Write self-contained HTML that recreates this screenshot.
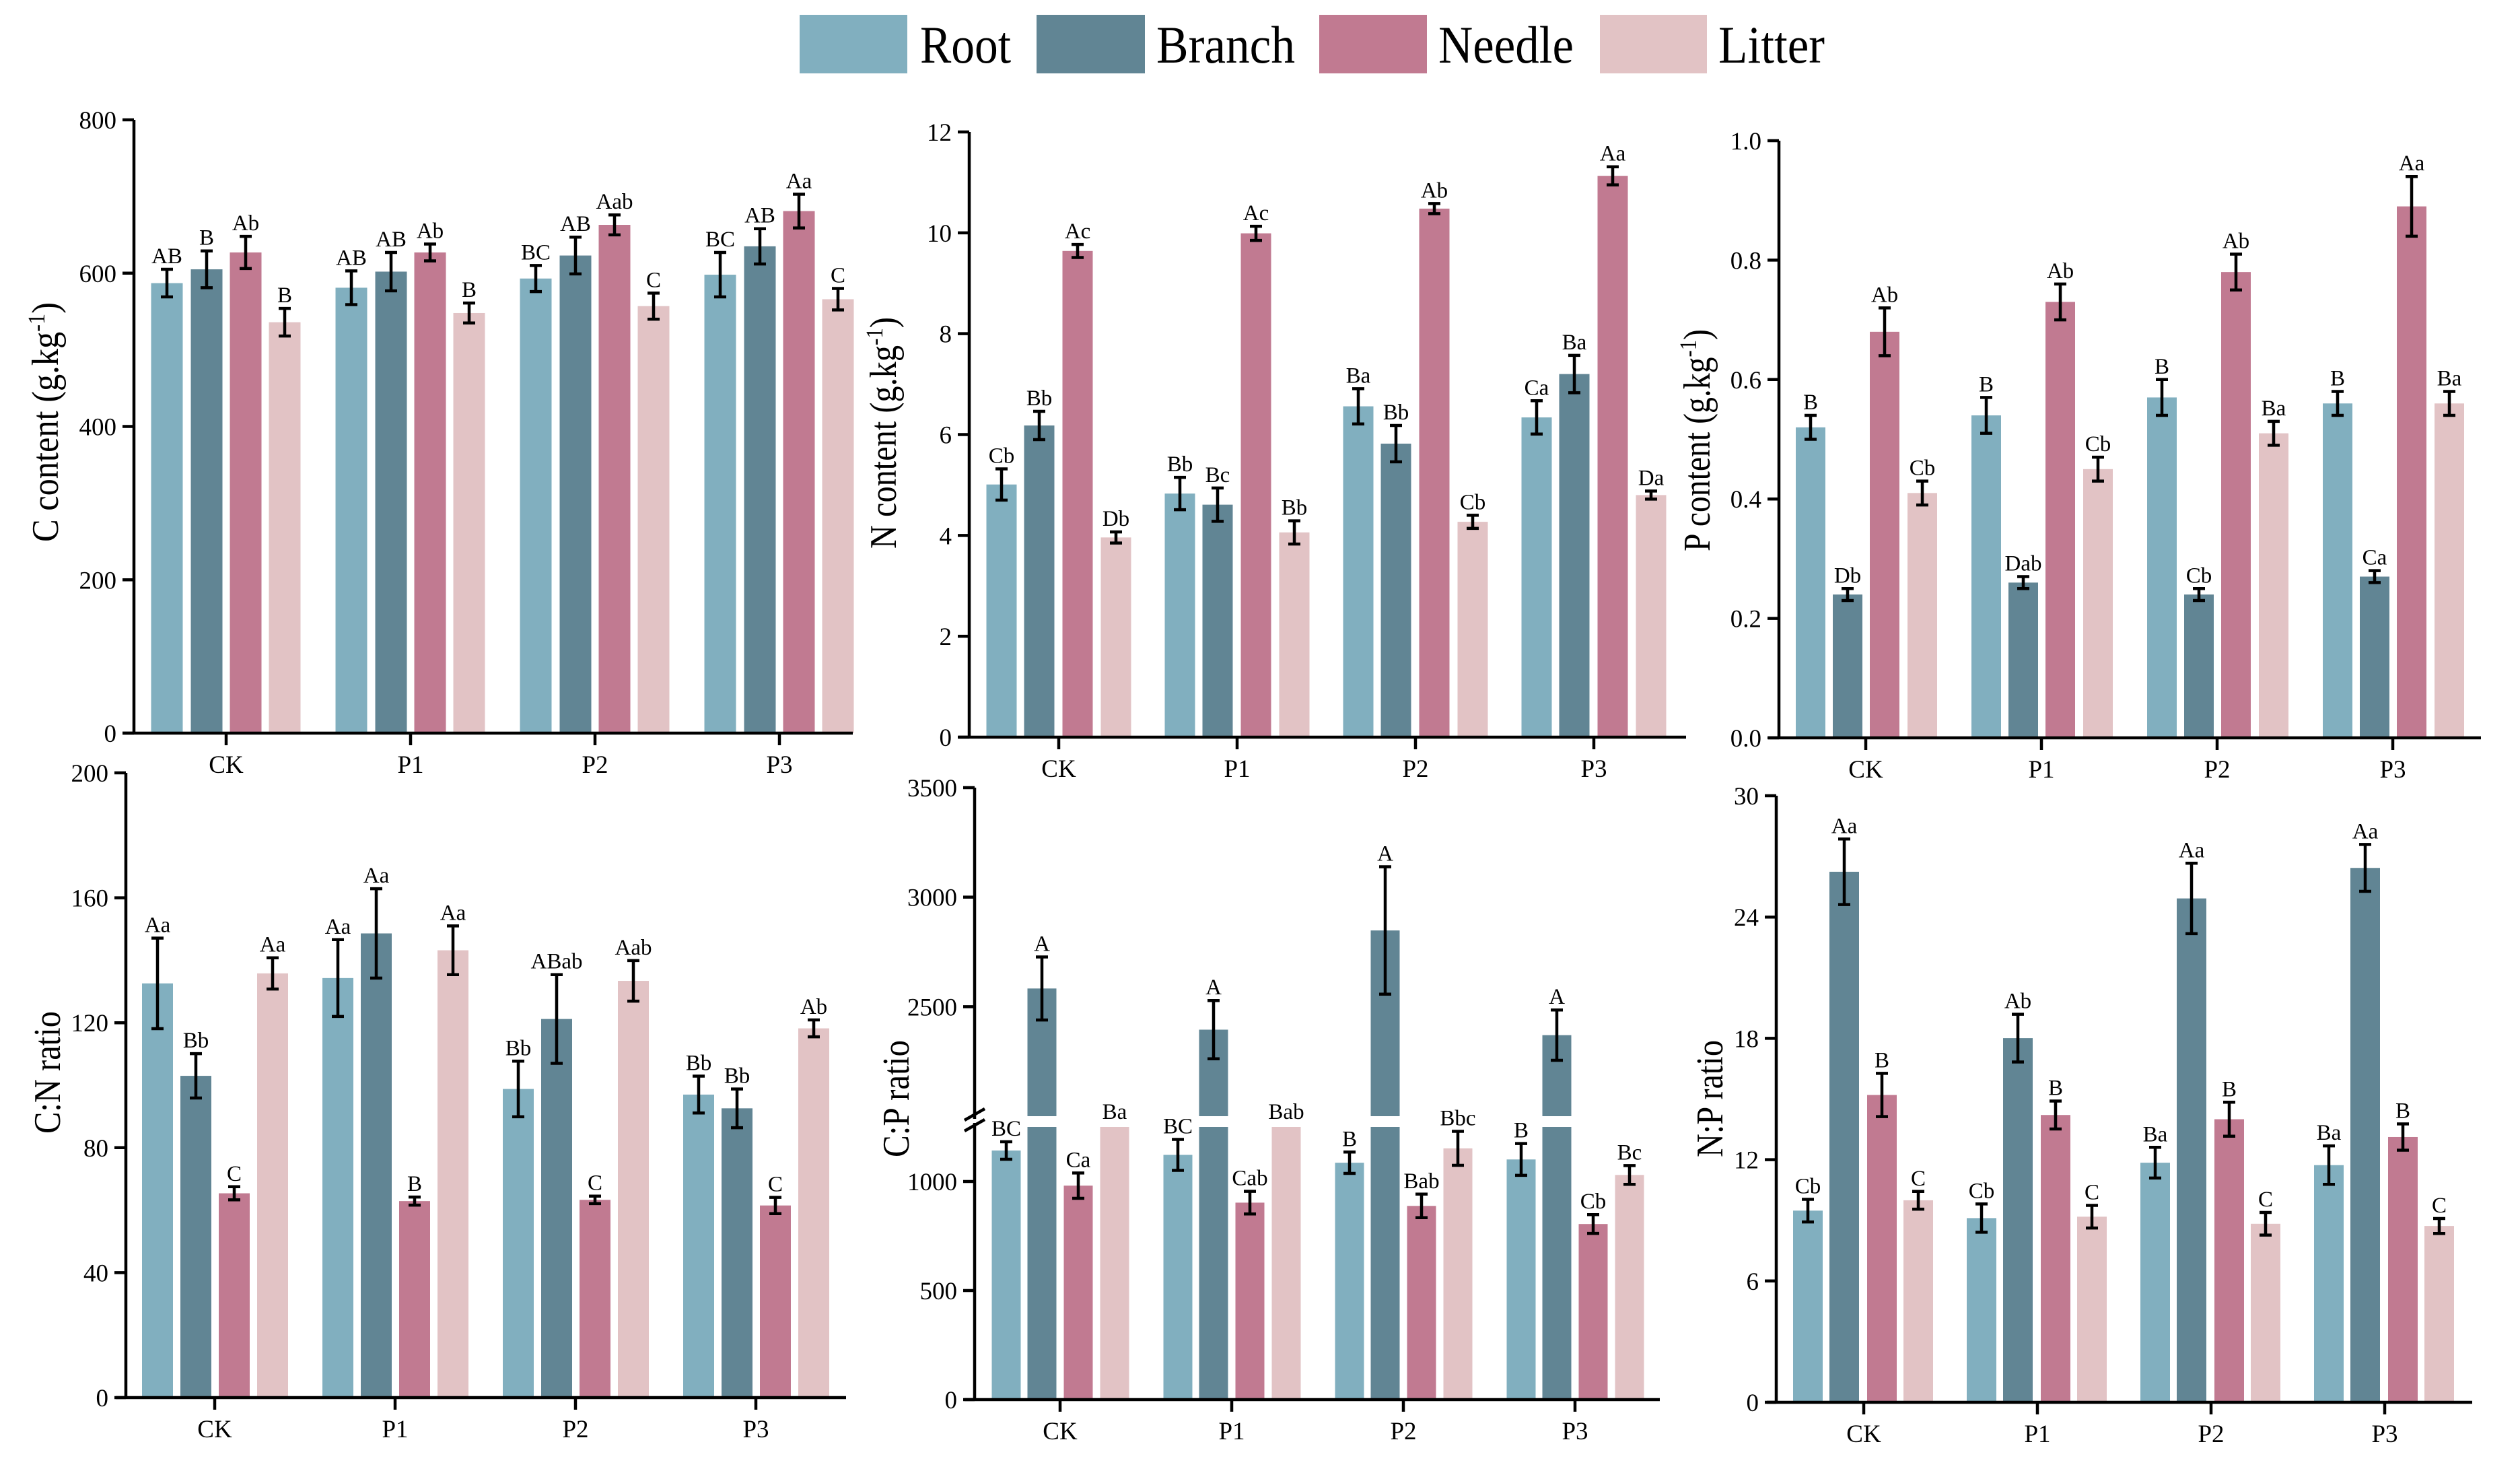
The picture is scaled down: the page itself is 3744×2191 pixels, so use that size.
<!DOCTYPE html>
<html><head><meta charset="utf-8"><style>
html,body{margin:0;padding:0;background:#fff;}
svg{display:block;font-family:"Liberation Serif","Times New Roman",serif;}
</style></head><body>
<svg id="fig" xmlns="http://www.w3.org/2000/svg" width="3744" height="2191" viewBox="0 0 3744 2191">
<rect x="0" y="0" width="3744" height="2191" fill="#fff"/>
<g>
  <g><rect x="1188" y="22" width="160" height="87" fill="#81afbf"/><text x="1367" y="93" font-size="78" textLength="135" lengthAdjust="spacingAndGlyphs">Root</text></g>
  <g><rect x="1540" y="22" width="161" height="87" fill="#618594"/><text x="1718" y="93" font-size="78" textLength="206" lengthAdjust="spacingAndGlyphs">Branch</text></g>
  <g><rect x="1960" y="22" width="160" height="87" fill="#c17a91"/><text x="2137" y="93" font-size="78" textLength="201" lengthAdjust="spacingAndGlyphs">Needle</text></g>
  <g><rect x="2377" y="22" width="159" height="87" fill="#e2c3c5"/><text x="2553" y="93" font-size="78" textLength="158" lengthAdjust="spacingAndGlyphs">Litter</text></g>
</g>
</svg>
<script>
const groups = ["CK","P1","P2","P3"];
const seriesNames = ["Root","Branch","Needle","Litter"];
const colors = ["#81afbf","#618594","#c17a91","#e2c3c5"];

// C content
const cMean = [[587,581,593,598],[605,602,623,635],[627,627,663,681],[536,548,557,566]];
const cErr  = [[18,22,17,29],[24,25,24,23],[21,11,13,22],[18,13,17,14]];
const cLab  = [["AB","AB","BC","BC"],["B","AB","AB","AB"],["Ab","Ab","Aab","Aa"],["B","B","C","C"]];
const cTicks = [0,200,400,600,800];
// N content
const nMean = [[5.01,4.83,6.56,6.34],[6.18,4.61,5.82,7.20],[9.64,9.99,10.48,11.13],[3.96,4.06,4.27,4.80]];
const nErr  = [[0.31,0.32,0.35,0.33],[0.28,0.33,0.36,0.37],[0.13,0.14,0.10,0.18],[0.11,0.23,0.13,0.08]];
const nLab  = [["Cb","Bb","Ba","Ca"],["Bb","Bc","Bb","Ba"],["Ac","Ac","Ab","Aa"],["Db","Bb","Cb","Da"]];
const nTicks = [0,2,4,6,8,10,12];
// P content
const pMean = [[0.52,0.54,0.57,0.56],[0.24,0.26,0.24,0.27],[0.68,0.73,0.78,0.89],[0.41,0.45,0.51,0.56]];
const pErr  = [[0.02,0.03,0.03,0.02],[0.01,0.01,0.01,0.01],[0.04,0.03,0.03,0.05],[0.02,0.02,0.02,0.02]];
const pLab  = [["B","B","B","B"],["Db","Dab","Cb","Ca"],["Ab","Ab","Ab","Aa"],["Cb","Cb","Ba","Ba"]];
const pTicks = [0.0,0.2,0.4,0.6,0.8,1.0];
// C:N ratio
const cnMean = [[132.6,134.3,98.8,97.0],[103.0,148.6,121.2,92.6],[65.4,62.9,63.3,61.5],[135.8,143.2,133.4,118.2]];
const cnErr  = [[14.5,12.3,8.9,5.9],[7.1,14.3,14.2,6.2],[2.1,1.3,1.2,2.6],[5.0,7.8,6.5,2.7]];
const cnLab  = [["Aa","Aa","Bb","Bb"],["Bb","Aa","ABab","Bb"],["C","B","C","C"],["Aa","Aa","Aab","Ab"]];
const cnTicks = [0,40,80,120,160,200];
// C:P ratio
const cpMean = [[1142,1122,1086,1101],[2583,2395,2848,2370],[981,903,888,805],[1300,1300,1152,1030]];
const cpErr  = [[40,71,49,73],[144,133,291,115],[58,52,54,43],[0,0,78,43]];
const cpLab  = [["BC","BC","B","B"],["A","A","A","A"],["Ca","Cab","Bab","Cb"],["Ba","Bab","Bbc","Bc"]];
const cpTicks = [0,500,1000,2500,3000,3500];
// N:P ratio
const npMean = [[9.48,9.11,11.85,11.73],[26.24,18.01,24.92,26.43],[15.2,14.21,14.0,13.12],[9.99,9.18,8.83,8.72]];
const npErr  = [[0.56,0.70,0.76,0.95],[1.62,1.18,1.74,1.16],[1.07,0.69,0.84,0.65],[0.44,0.56,0.56,0.37]];
const npLab  = [["Cb","Cb","Ba","Ba"],["Aa","Ab","Aa","Aa"],["B","B","B","B"],["C","C","C","C"]];
const npTicks = [0,6,12,18,24,30];

const NS = "http://www.w3.org/2000/svg";
const svg = document.getElementById("fig");
function mk(tag, attrs, parent){ const e=document.createElementNS(NS,tag); for(const k in attrs) e.setAttribute(k,attrs[k]); (parent||svg).appendChild(e); return e; }

function linScale(v0,v1,p0,p1){ return v => p0 + (v-v0)*(p1-p0)/(v1-v0); }

const panels = [
 {key:"c-content", mean:cMean, err:cErr, lab:cLab, ticks:cTicks, fmt:v=>String(v),
  ax:199, y0:1089, xs:182, xe:1267, g0:336, gs:274, bw:47, off:[-88,-29,29,87],
  y:linScale(0,800,1089,178), title:"C content (g.kg", sup:true, tx:86, ty:627, tl:356},
 {key:"n-content", mean:nMean, err:nErr, lab:nLab, ticks:nTicks, fmt:v=>String(v),
  ax:1440, y0:1095, xs:1424, xe:2505, g0:1573, gs:265, bw:45, off:[-85,-29,28,85],
  y:linScale(0,12,1095,196), title:"N content (g.kg", sup:true, tx:1331, ty:643, tl:344},
 {key:"p-content", mean:pMean, err:pErr, lab:pLab, ticks:pTicks, fmt:v=>v.toFixed(1),
  ax:2643, y0:1096, xs:2627, xe:3686, g0:2772, gs:261, bw:44, off:[-82,-27,28,84],
  y:linScale(0,1,1096,209), title:"P content (g.kg", sup:true, tx:2540, ty:654, tl:330},
 {key:"cn-ratio", mean:cnMean, err:cnErr, lab:cnLab, ticks:cnTicks, fmt:v=>String(v),
  ax:187, y0:2076, xs:172, xe:1257, g0:319, gs:268, bw:46, off:[-85,-28,29,86],
  y:linScale(0,200,2076,1148), title:"C:N ratio", sup:false, tx:89, ty:1593, tl:182},
 {key:"cp-ratio", mean:cpMean, err:cpErr, lab:cpLab, ticks:cpTicks, fmt:v=>String(v),
  ax:1448, y0:2079, xs:1433, xe:2466, g0:1575, gs:255, bw:43, off:[-80,-27,27,81],
  y:v => v<=1250 ? 2079 - v*(405/1250) : (v<2000 ? 1666 : 1658 - (v-2000)*(488/1500)),
  brk:true, title:"C:P ratio", sup:false, tx:1350, ty:1632, tl:174},
 {key:"np-ratio", mean:npMean, err:npErr, lab:npLab, ticks:npTicks, fmt:v=>String(v),
  ax:2639, y0:2083, xs:2625, xe:3673, g0:2769, gs:258, bw:44, off:[-83,-29,27,81],
  y:linScale(0,30,2083,1182), title:"N:P ratio", sup:false, tx:2559, ty:1632, tl:174}
];

panels.forEach(p=>{
  const g = mk("g",{});
  
  
  const top = p.y(p.ticks[p.ticks.length-1]);
  for(let s=0;s<4;s++){
    for(let i=0;i<4;i++){
      const v=p.mean[s][i], e=p.err[s][i];
      const cx=p.g0+i*p.gs+p.off[s], x=cx-p.bw/2;
      if(p.brk && v>1250){
        const r1=mk("rect",{x:x,y:p.y(1250),width:p.bw,height:p.y0-p.y(1250),fill:colors[s]},g);
        
        
        if(v>=2000){
          const r2=mk("rect",{x:x,y:p.y(v),width:p.bw,height:p.y(2000)-p.y(v),fill:colors[s]},g);
          
          
        }
      } else {
        const r=mk("rect",{x:x,y:p.y(v),width:p.bw,height:p.y0-p.y(v),fill:colors[s]},g);
        
        
      }
      let labY;
      const inGap = p.brk && v>1250 && v<2000;
      if(e>0 && !inGap){
        const yt=p.y(v+e), yb=p.y(v-e);
        const eb=mk("path",{d:`M${cx},${yt}V${yb}M${cx-9},${yt}H${cx+9}M${cx-9},${yb}H${cx+9}`,stroke:"#000","stroke-width":4.5,fill:"none"},g);
        
        
        labY=yt-9;
      } else {
        labY=p.y(Math.min(v,p.brk?1250:v))-12;
      }
      const t=mk("text",{x:cx,y:labY,"font-size":33,"text-anchor":"middle"},g);
      t.textContent=p.lab[s][i];
      
      
    }
  }
  let yd;
  if(p.brk){ yd=`M${p.ax},${top}V1662M${p.ax},1668V${p.y0}`; }
  else yd=`M${p.ax},${top}V${p.y0}`;
  const ya=mk("path",{d:yd,stroke:"#000","stroke-width":4.5,fill:"none"},g);
  
  
  if(p.brk){
    const bm=mk("path",{d:`M${p.ax-15},1664L${p.ax+15},1647M${p.ax-15},1680L${p.ax+15},1663`,stroke:"#000","stroke-width":4.5,fill:"none"},g);
    
    
  }
  const xa=mk("line",{x1:p.xs,y1:p.y0,x2:p.xe,y2:p.y0,stroke:"#000","stroke-width":4.5},g);
  
  
  p.ticks.forEach(tv=>{
    const ty=p.y(tv);
    mk("line",{x1:p.ax-17,y1:ty,x2:p.ax,y2:ty,stroke:"#000","stroke-width":4.5},g);
    const t=mk("text",{x:p.ax-26,y:ty+13,"font-size":37,"text-anchor":"end"},g);
    t.textContent=p.fmt(tv);
    
    
  });
  groups.forEach((gname,i)=>{
    const gx=p.g0+i*p.gs;
    mk("line",{x1:gx,y1:p.y0,x2:gx,y2:p.y0+18,stroke:"#000","stroke-width":4.5},g);
    const t=mk("text",{x:gx,y:p.y0+59,"font-size":37,"text-anchor":"middle"},g);
    t.textContent=gname;
    
    
  });
  const yt=mk("text",{x:0,y:0,"font-size":56,"text-anchor":"middle",textLength:p.tl,lengthAdjust:"spacingAndGlyphs",transform:`translate(${p.tx},${p.ty}) rotate(-90)`},g);
  
  
  if(p.sup){
    yt.appendChild(document.createTextNode(p.title));
    const s1=mk("tspan",{"font-size":36,dy:-20},yt); s1.textContent="-1";
    const s2=mk("tspan",{dy:20},yt); s2.textContent=")";
  } else yt.textContent=p.title;
});
</script>
</body></html>
